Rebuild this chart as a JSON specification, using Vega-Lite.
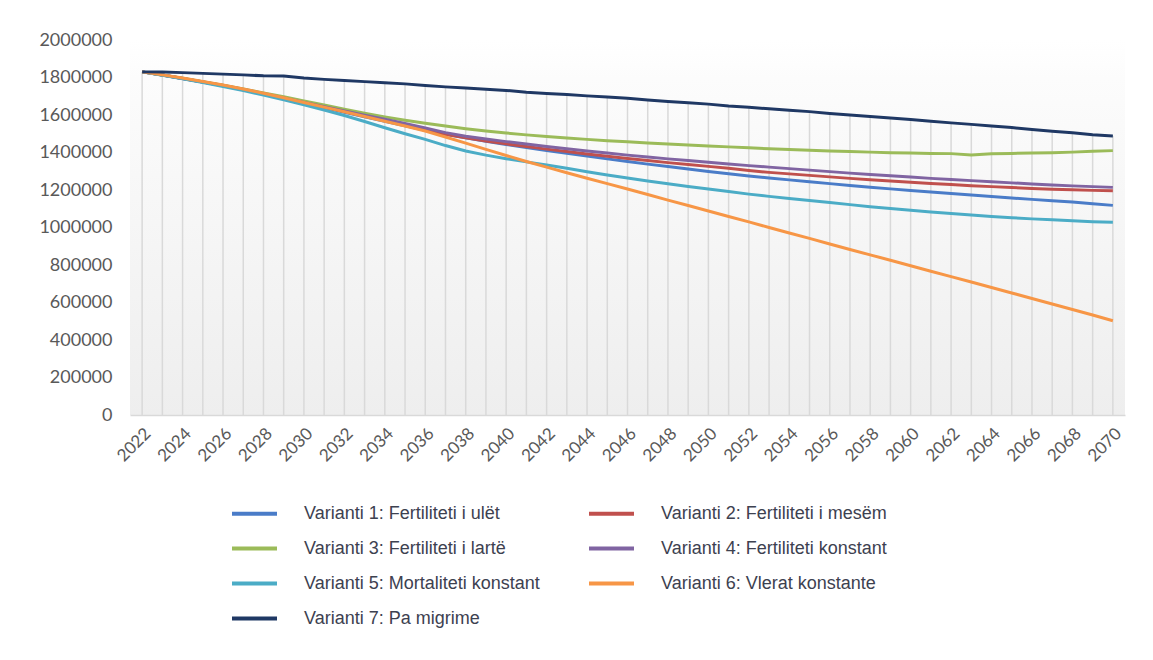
{
  "$schema": "https://vega.github.io/schema/vega-lite/v6.json",
  "width": 995,
  "height": 375,
  "autosize": "none",
  "padding": {"left": 130, "top": 40, "right": 28, "bottom": 245},
  "background": "#ffffff",
  "config": {
    "view": {"stroke": null, "fill": {"gradient": "linear", "x1": 0, "y1": 0, "x2": 0, "y2": 1, "stops": [{"offset": 0, "color": "#ffffff"}, {"offset": 0.1, "color": "#fcfcfc"}, {"offset": 1, "color": "#eeeeee"}]}},
    "font": "Lato",
    "axis": {"labelOverlap": false, "labelBound": false, "labelFlush": false}
  },
  "datasets": {
    "series": [
      {"key": "v1", "name": "Varianti 1: Fertiliteti i ulët"},
      {"key": "v2", "name": "Varianti 2: Fertiliteti i mesëm"},
      {"key": "v3", "name": "Varianti 3: Fertiliteti i lartë"},
      {"key": "v4", "name": "Varianti 4: Fertiliteti konstant"},
      {"key": "v5", "name": "Varianti 5: Mortaliteti konstant"},
      {"key": "v6", "name": "Varianti 6: Vlerat konstante"},
      {"key": "v7", "name": "Varianti 7: Pa migrime"}
    ],
    "wide": [
      {"year": 2022, "v1": 1830000, "v2": 1830000, "v3": 1830000, "v4": 1830000, "v5": 1830000, "v6": 1830000, "v7": 1830000},
      {"year": 2023, "v1": 1813000, "v2": 1813000, "v3": 1813000, "v4": 1813000, "v5": 1812000, "v6": 1814000, "v7": 1829000},
      {"year": 2024, "v1": 1795000, "v2": 1795000, "v3": 1796000, "v4": 1795000, "v5": 1793000, "v6": 1797000, "v7": 1826000},
      {"year": 2025, "v1": 1776000, "v2": 1776000, "v3": 1778000, "v4": 1776000, "v5": 1773000, "v6": 1779000, "v7": 1822000},
      {"year": 2026, "v1": 1756000, "v2": 1757000, "v3": 1759000, "v4": 1757000, "v5": 1752000, "v6": 1760000, "v7": 1818000},
      {"year": 2027, "v1": 1735000, "v2": 1736000, "v3": 1739000, "v4": 1736000, "v5": 1730000, "v6": 1739000, "v7": 1814000},
      {"year": 2028, "v1": 1713000, "v2": 1714000, "v3": 1718000, "v4": 1714000, "v5": 1706000, "v6": 1716000, "v7": 1809000},
      {"year": 2029, "v1": 1690000, "v2": 1691000, "v3": 1697000, "v4": 1691000, "v5": 1681000, "v6": 1692000, "v7": 1808000},
      {"year": 2030, "v1": 1665000, "v2": 1667000, "v3": 1675000, "v4": 1667000, "v5": 1655000, "v6": 1667000, "v7": 1797000},
      {"year": 2031, "v1": 1640000, "v2": 1643000, "v3": 1653000, "v4": 1644000, "v5": 1627000, "v6": 1642000, "v7": 1790000},
      {"year": 2032, "v1": 1615000, "v2": 1619000, "v3": 1631000, "v4": 1621000, "v5": 1597000, "v6": 1617000, "v7": 1784000},
      {"year": 2033, "v1": 1590000, "v2": 1595000, "v3": 1610000, "v4": 1599000, "v5": 1565000, "v6": 1592000, "v7": 1778000},
      {"year": 2034, "v1": 1566000, "v2": 1571000, "v3": 1590000, "v4": 1577000, "v5": 1532000, "v6": 1567000, "v7": 1772000},
      {"year": 2035, "v1": 1542000, "v2": 1547000, "v3": 1572000, "v4": 1555000, "v5": 1500000, "v6": 1541000, "v7": 1766000},
      {"year": 2036, "v1": 1519000, "v2": 1522000, "v3": 1556000, "v4": 1531000, "v5": 1470000, "v6": 1515000, "v7": 1757000},
      {"year": 2037, "v1": 1497000, "v2": 1497000, "v3": 1541000, "v4": 1506000, "v5": 1437000, "v6": 1483000, "v7": 1750000},
      {"year": 2038, "v1": 1478000, "v2": 1478000, "v3": 1527000, "v4": 1487000, "v5": 1408000, "v6": 1450000, "v7": 1744000},
      {"year": 2039, "v1": 1460000, "v2": 1461000, "v3": 1515000, "v4": 1472000, "v5": 1386000, "v6": 1417000, "v7": 1737000},
      {"year": 2040, "v1": 1443000, "v2": 1446000, "v3": 1504000, "v4": 1458000, "v5": 1367000, "v6": 1384000, "v7": 1731000},
      {"year": 2041, "v1": 1427000, "v2": 1432000, "v3": 1494000, "v4": 1445000, "v5": 1350000, "v6": 1352000, "v7": 1721000},
      {"year": 2042, "v1": 1411000, "v2": 1418000, "v3": 1485000, "v4": 1432000, "v5": 1333000, "v6": 1322000, "v7": 1715000},
      {"year": 2043, "v1": 1396000, "v2": 1405000, "v3": 1477000, "v4": 1420000, "v5": 1316000, "v6": 1292000, "v7": 1709000},
      {"year": 2044, "v1": 1381000, "v2": 1392000, "v3": 1470000, "v4": 1408000, "v5": 1297000, "v6": 1263000, "v7": 1702000},
      {"year": 2045, "v1": 1366000, "v2": 1380000, "v3": 1463000, "v4": 1397000, "v5": 1280000, "v6": 1234000, "v7": 1696000},
      {"year": 2046, "v1": 1352000, "v2": 1368000, "v3": 1457000, "v4": 1386000, "v5": 1264000, "v6": 1205000, "v7": 1689000},
      {"year": 2047, "v1": 1338000, "v2": 1357000, "v3": 1451000, "v4": 1376000, "v5": 1248000, "v6": 1176000, "v7": 1680000},
      {"year": 2048, "v1": 1325000, "v2": 1346000, "v3": 1445000, "v4": 1366000, "v5": 1233000, "v6": 1146000, "v7": 1672000},
      {"year": 2049, "v1": 1312000, "v2": 1336000, "v3": 1440000, "v4": 1357000, "v5": 1219000, "v6": 1117000, "v7": 1665000},
      {"year": 2050, "v1": 1299000, "v2": 1326000, "v3": 1435000, "v4": 1348000, "v5": 1205000, "v6": 1088000, "v7": 1658000},
      {"year": 2051, "v1": 1287000, "v2": 1316000, "v3": 1430000, "v4": 1339000, "v5": 1192000, "v6": 1059000, "v7": 1648000},
      {"year": 2052, "v1": 1275000, "v2": 1304000, "v3": 1425000, "v4": 1330000, "v5": 1178000, "v6": 1030000, "v7": 1641000},
      {"year": 2053, "v1": 1264000, "v2": 1294000, "v3": 1420000, "v4": 1322000, "v5": 1166000, "v6": 1000000, "v7": 1633000},
      {"year": 2054, "v1": 1254000, "v2": 1286000, "v3": 1416000, "v4": 1314000, "v5": 1155000, "v6": 971000, "v7": 1625000},
      {"year": 2055, "v1": 1244000, "v2": 1278000, "v3": 1412000, "v4": 1306000, "v5": 1144000, "v6": 942000, "v7": 1618000},
      {"year": 2056, "v1": 1234000, "v2": 1270000, "v3": 1408000, "v4": 1298000, "v5": 1133000, "v6": 912000, "v7": 1608000},
      {"year": 2057, "v1": 1224000, "v2": 1262000, "v3": 1405000, "v4": 1290000, "v5": 1122000, "v6": 883000, "v7": 1600000},
      {"year": 2058, "v1": 1215000, "v2": 1255000, "v3": 1402000, "v4": 1283000, "v5": 1111000, "v6": 854000, "v7": 1592000},
      {"year": 2059, "v1": 1206000, "v2": 1248000, "v3": 1399000, "v4": 1276000, "v5": 1101000, "v6": 825000, "v7": 1584000},
      {"year": 2060, "v1": 1197000, "v2": 1241000, "v3": 1397000, "v4": 1269000, "v5": 1092000, "v6": 796000, "v7": 1576000},
      {"year": 2061, "v1": 1189000, "v2": 1235000, "v3": 1395000, "v4": 1262000, "v5": 1083000, "v6": 767000, "v7": 1567000},
      {"year": 2062, "v1": 1181000, "v2": 1229000, "v3": 1394000, "v4": 1256000, "v5": 1075000, "v6": 738000, "v7": 1558000},
      {"year": 2063, "v1": 1173000, "v2": 1223000, "v3": 1387000, "v4": 1250000, "v5": 1067000, "v6": 709000, "v7": 1550000},
      {"year": 2064, "v1": 1165000, "v2": 1218000, "v3": 1393000, "v4": 1244000, "v5": 1059000, "v6": 680000, "v7": 1541000},
      {"year": 2065, "v1": 1157000, "v2": 1213000, "v3": 1395000, "v4": 1238000, "v5": 1052000, "v6": 651000, "v7": 1533000},
      {"year": 2066, "v1": 1150000, "v2": 1208000, "v3": 1397000, "v4": 1232000, "v5": 1046000, "v6": 621000, "v7": 1523000},
      {"year": 2067, "v1": 1143000, "v2": 1204000, "v3": 1399000, "v4": 1227000, "v5": 1041000, "v6": 592000, "v7": 1513000},
      {"year": 2068, "v1": 1136000, "v2": 1201000, "v3": 1402000, "v4": 1222000, "v5": 1036000, "v6": 563000, "v7": 1505000},
      {"year": 2069, "v1": 1127000, "v2": 1198000, "v3": 1407000, "v4": 1218000, "v5": 1031000, "v6": 533000, "v7": 1495000},
      {"year": 2070, "v1": 1118000, "v2": 1196000, "v3": 1410000, "v4": 1214000, "v5": 1028000, "v6": 503000, "v7": 1488000}
    ]
  },
  "data": {"name": "wide"},
  "layer": [
    {
      "mark": {"type": "rule", "color": "#d9d9d9", "strokeWidth": 1.5},
      "encoding": {
        "x": {
          "field": "year", "type": "quantitative",
          "scale": {"domain": [2021.4, 2070.6], "nice": false, "zero": false},
          "axis": {
            "title": null, "format": "d",
            "values": [2022, 2024, 2026, 2028, 2030, 2032, 2034, 2036, 2038, 2040, 2042, 2044, 2046, 2048, 2050, 2052, 2054, 2056, 2058, 2060, 2062, 2064, 2066, 2068, 2070],
            "labelAngle": -45, "labelAlign": "right", "labelBaseline": "top",
            "labelFontSize": 17, "labelColor": "#595959", "labelPadding": 10,
            "labelOverlap": false,
            "ticks": false, "grid": false, "domainColor": "#d9d9d9", "domainWidth": 1.5
          }
        },
        "y": {
          "field": "v7", "type": "quantitative",
          "scale": {"domain": [0, 2000000], "nice": false},
          "axis": {
            "title": null, "format": "d",
            "values": [0, 200000, 400000, 600000, 800000, 1000000, 1200000, 1400000, 1600000, 1800000, 2000000],
            "labelFontSize": 18, "labelColor": "#595959", "labelPadding": 18,
            "labelOverlap": false,
            "ticks": false, "grid": false, "domain": false
          }
        },
        "y2": {"datum": 0}
      }
    },
    {
      "transform": [
        {"fold": ["v1", "v2", "v3", "v4", "v5", "v6", "v7"], "as": ["key", "value"]},
        {"lookup": "key", "from": {"data": {"name": "series"}, "key": "key", "fields": ["name"]}}
      ],
      "mark": {"type": "line", "strokeWidth": 3},
      "encoding": {
        "x": {"field": "year", "type": "quantitative", "axis": {"title": null, "format": "d", "labelOverlap": false, "values": [2022, 2024, 2026, 2028, 2030, 2032, 2034, 2036, 2038, 2040, 2042, 2044, 2046, 2048, 2050, 2052, 2054, 2056, 2058, 2060, 2062, 2064, 2066, 2068, 2070]}},
        "y": {"field": "value", "type": "quantitative", "axis": {"title": null, "format": "d", "labelOverlap": false, "values": [0, 200000, 400000, 600000, 800000, 1000000, 1200000, 1400000, 1600000, 1800000, 2000000]}},
        "color": {
          "field": "name", "type": "nominal",
          "scale": {
            "domain": ["Varianti 1: Fertiliteti i ulët", "Varianti 3: Fertiliteti i lartë", "Varianti 5: Mortaliteti konstant", "Varianti 7: Pa migrime", "Varianti 2: Fertiliteti i mesëm", "Varianti 4: Fertiliteti konstant", "Varianti 6: Vlerat konstante"],
            "range": ["#4a7cc8", "#9bbb59", "#4bacc6", "#1f3864", "#c0504d", "#8064a2", "#f79646"]
          },
          "legend": {
            "title": null, "orient": "none", "legendX": 100, "legendY": 449,
            "columns": 2, "columnPadding": 41, "rowPadding": 1,
            "symbolType": "stroke", "symbolSize": 2025, "symbolStrokeWidth": 4,
            "labelFont": "Liberation Sans", "labelFontSize": 18, "labelColor": "#3d4150",
            "labelOffset": 25, "labelLimit": 400
          }
        }
      }
    }
  ]
}
